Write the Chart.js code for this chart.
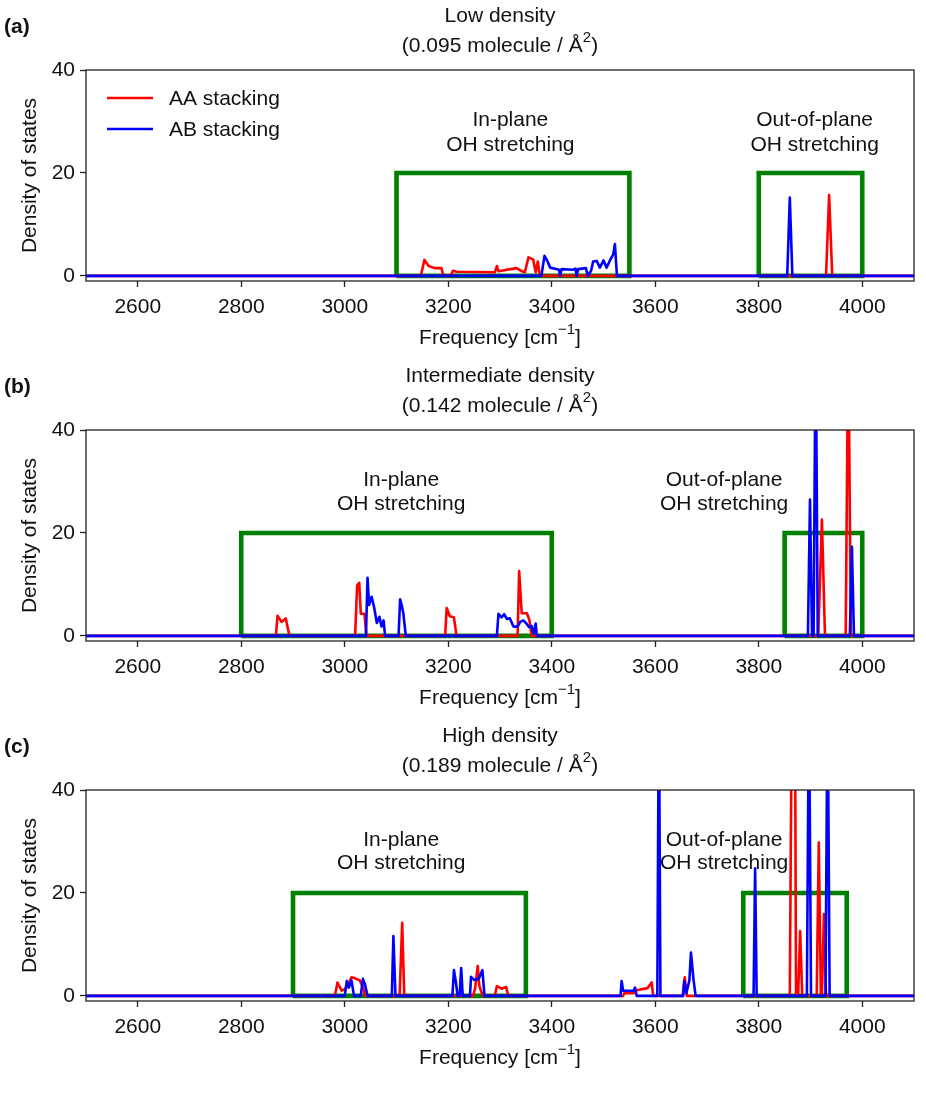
<!DOCTYPE html>
<html>
<head>
<meta charset="utf-8">
<script src="https://cdn.jsdelivr.net/npm/chart.js@4.4.1/dist/chart.umd.min.js"></script>
<style>
  html, body { margin: 0; padding: 0; background: #fff; }
  .panel { width: 926px; height: 360px; display: block; }
  canvas { display: block; }
</style>
</head>
<body>
<div class="panel"><canvas id="ca" width="926" height="360"></canvas></div>
<div class="panel"><canvas id="cb" width="926" height="360"></canvas></div>
<div class="panel"><canvas id="cc" width="926" height="360"></canvas></div>
<script>
// ---------- data (frequency in cm^-1, density of states) ----------
const xTicks = [2600, 2800, 3000, 3200, 3400, 3600, 3800, 4000];
const yTicks = [0, 20, 40];
const seriesNames = ['AA stacking', 'AB stacking'];

const lowAA = [[2500,0],[3147,0],[3154,3.1],[3162,1.9],[3175,1.5],[3187,1.5],[3190,0.3],[3192,0],[3205,0],[3209,1.0],[3216,0.8],[3290,0.7],[3294,1.9],[3297,0.9],[3332,1.5],[3340,1.0],[3348,0.7],[3355,3.6],[3364,3.2],[3369,0.7],[3373,2.8],[3377,0],[3930,0],[3936,15.7],[3942,0],[4100,0]];
const lowAB = [[2500,0],[3380,0],[3386,3.9],[3391,3.0],[3397,1.6],[3410,1.3],[3414,1.2],[3416,0],[3419,1.3],[3440,1.2],[3446,1.4],[3448,0],[3451,1.3],[3466,1.5],[3470,0],[3476,1.0],[3480,2.8],[3487,2.9],[3493,1.6],[3500,3.0],[3506,1.6],[3512,2.9],[3519,4.2],[3522,6.2],[3526,0],[3855,0],[3860,15.2],[3865,0],[4100,0]];

const midAA = [[2500,0],[2867,0],[2870,3.9],[2878,2.7],[2886,3.4],[2893,0],[3020,0],[3024,9.8],[3028,10.3],[3031,4.3],[3038,4.3],[3042,0],[3194,0],[3197,5.4],[3203,3.8],[3211,3.6],[3216,0],[3334,0],[3337,12.6],[3342,4.4],[3352,4.4],[3357,3.0],[3361,0],[3915,0],[3922,22.6],[3928,0],[3968,0],[3973,60],[3978,0],[4100,0]];
const midAB = [[2500,0],[3041,0],[3044,11.3],[3047,6.0],[3052,7.6],[3057,5.4],[3062,2.5],[3067,3.7],[3071,1.8],[3075,3.0],[3078,0],[3104,0],[3107,7.1],[3110,6.0],[3113,4.5],[3118,0],[3294,0],[3297,4.3],[3303,3.6],[3308,4.2],[3313,3.3],[3319,3.4],[3326,1.8],[3334,1.8],[3339,2.7],[3345,3.0],[3351,2.4],[3356,1.7],[3361,1.9],[3365,0.5],[3369,2.4],[3371,0],[3895,0],[3899,26.5],[3903,0],[3906,0],[3910,60],[3914,0],[3976,0],[3980,17.3],[3984,0],[4100,0]];

const highAA = [[2500,0],[2981,0],[2986,2.6],[2994,1.0],[3000,1.3],[3006,2.0],[3013,3.6],[3020,3.4],[3029,3.0],[3036,1.5],[3039,0],[3106,0],[3111,14.2],[3115,0],[3248,0],[3252,1.5],[3257,5.8],[3260,2.0],[3263,1.0],[3267,0],[3290,0],[3294,1.9],[3303,1.4],[3312,1.7],[3316,0],[3538,0],[3540,0.5],[3558,0.5],[3564,1.1],[3585,1.5],[3593,2.6],[3596,0],[3653,0],[3657,3.6],[3661,0],[3860,0],[3864,60],[3870,60],[3872,0],[3876,0],[3880,12.6],[3884,0],[3912,0],[3916,29.8],[3920,0],[3922,0],[3926,15.9],[3930,0],[4100,0]];
const highAB = [[2500,0],[3000,0],[3004,2.9],[3008,1.6],[3013,3.0],[3018,0],[3031,0],[3035,3.3],[3039,2.3],[3044,0],[3091,0],[3094,11.6],[3098,0],[3208,0],[3211,5.0],[3215,2.5],[3218,0],[3222,0],[3225,5.4],[3228,0],[3242,0],[3244,3.7],[3250,3.1],[3259,3.3],[3266,5.0],[3270,0],[3533,0],[3535,2.9],[3538,1.0],[3558,1.0],[3561,1.6],[3564,0],[3604,0],[3607,60],[3610,0],[3654,0],[3656,2.9],[3660,0.5],[3666,3.0],[3669,8.4],[3674,3.1],[3678,0],[3790,0],[3793,24.8],[3796,0],[3893,0],[3897,60],[3901,0],[3929,0],[3933,60],[3937,0],[4100,0]];

// boxes: [xStart, xEnd, height]
const lowBoxes  = [[3100, 3550, 20], [3800, 4000, 20]];
const midBoxes  = [[2800, 3400, 20], [3850, 4000, 20]];
const highBoxes = [[2900, 3350, 20], [3770, 3970, 20]];

const panelLabels = ['(a)', '(b)', '(c)'];
const titles = ['Low density', 'Intermediate density', 'High density'];
const densities = ['0.095', '0.142', '0.189'];

// ---------- drawing helpers ----------
const FONT = "'Liberation Sans', Arial, sans-serif";
const FS = 21;
const INK = '#111';

function drawRich(ctx, parts, cx, cy, align) {
  let total = 0;
  const widths = parts.map(p => {
    ctx.font = (p[1] ? Math.round(FS * 0.7) : FS) + 'px ' + FONT;
    const w = ctx.measureText(p[0]).width;
    total += w;
    return w;
  });
  let x = align === 'center' ? cx - total / 2 : cx;
  ctx.textAlign = 'left';
  ctx.textBaseline = 'middle';
  parts.forEach((p, i) => {
    ctx.font = (p[1] ? Math.round(FS * 0.7) : FS) + 'px ' + FONT;
    ctx.fillText(p[0], x, p[1] ? cy - 8 : cy);
    x += widths[i];
  });
}

function toXY(arr) { return arr.map(p => ({x: p[0], y: p[1]})); }
function boxPath(b) { return [{x:b[0],y:0},{x:b[0],y:b[2]},{x:b[1],y:b[2]},{x:b[1],y:0},{x:b[0],y:0}]; }

function makeChart(id, idx, aa, ab, boxes, annots, showLegend) {
  const datasets = [
    {label: seriesNames[1], data: toXY(ab), borderColor: '#0000ff', borderWidth: 2.6, clip: 0, borderJoinStyle: 'round'},
    {label: seriesNames[0], data: toXY(aa), borderColor: '#ff0000', borderWidth: 2.6, clip: 0, borderJoinStyle: 'round'},
  ];
  boxes.forEach(b => datasets.push({label: 'box', data: boxPath(b), borderColor: '#008000', borderWidth: 4.6, clip: 0, borderJoinStyle: 'miter'}));
  datasets.forEach(d => { d.showLine = true; d.pointRadius = 0; d.pointHoverRadius = 0; d.tension = 0; d.fill = false; });

  const decor = {
    id: 'decor' + idx,
    afterDatasetsDraw(chart) {
      const ctx = chart.ctx, a = chart.chartArea;
      const xs = chart.scales.x, ys = chart.scales.y;
      ctx.save();
      ctx.strokeStyle = '#222';
      ctx.lineWidth = 1.3;
      ctx.strokeRect(a.left, a.top, a.right - a.left, a.bottom - a.top);
      ctx.fillStyle = INK;
      ctx.font = FS + 'px ' + FONT;
      ctx.textAlign = 'center';
      ctx.textBaseline = 'middle';
      annots.forEach(t => {
        ctx.fillText(t[0], xs.getPixelForValue(t[1]), ys.getPixelForValue(t[2]));
      });
      if (showLegend) {
        const items = [['#ff0000', seriesNames[0]], ['#0000ff', seriesNames[1]]];
        items.forEach((it, i) => {
          const y = 98 + i * 31;
          ctx.strokeStyle = it[0];
          ctx.lineWidth = 2.6;
          ctx.beginPath(); ctx.moveTo(107, y); ctx.lineTo(153, y); ctx.stroke();
          ctx.fillStyle = INK;
          ctx.textAlign = 'left';
          ctx.fillText(it[1], 169, y + 1);
        });
      }
      const cx = (a.left + a.right) / 2;
      ctx.fillStyle = INK;
      ctx.textAlign = 'center';
      ctx.font = FS + 'px ' + FONT;
      ctx.fillText(titles[idx], cx, 16);
      drawRich(ctx, [['(' + densities[idx] + ' molecule / Å', false], ['2', true], [')', false]], cx, 46, 'center');
      ctx.font = 'bold ' + FS + 'px ' + FONT;
      ctx.textAlign = 'left';
      ctx.fillText(panelLabels[idx], 4, 27);
      drawRich(ctx, [['Frequency [cm', false], ['\u22121', true], [']', false]], cx, 338, 'center');
      ctx.save();
      ctx.translate(30, (a.top + a.bottom) / 2);
      ctx.rotate(-Math.PI / 2);
      ctx.font = FS + 'px ' + FONT;
      ctx.textAlign = 'center';
      ctx.textBaseline = 'middle';
      ctx.fillText('Density of states', 0, 0);
      ctx.restore();
      ctx.restore();
    }
  };

  return new Chart(document.getElementById(id), {
    type: 'scatter',
    data: { datasets },
    options: {
      responsive: false,
      animation: false,
      devicePixelRatio: 1,
      layout: { padding: { left: 0, top: 70, right: 12, bottom: 0 } },
      plugins: { legend: { display: false }, tooltip: { enabled: false }, title: { display: false } },
      events: [],
      scales: {
        x: {
          type: 'linear', min: 2500, max: 4100,
          afterBuildTicks: s => { s.ticks = xTicks.map(v => ({value: v})); },
          afterFit: s => { s.height = 79; },
          grid: { drawOnChartArea: false, drawTicks: true, tickLength: 6, tickWidth: 1.3, tickColor: '#222' },
          border: { display: false },
          ticks: { font: { family: FONT, size: FS }, color: INK, padding: 8, maxRotation: 0, autoSkip: false, callback: v => String(v) }
        },
        y: {
          type: 'linear', min: -1, max: 40,
          afterBuildTicks: s => { s.ticks = yTicks.map(v => ({value: v})); },
          afterFit: s => { s.width = 86; },
          grid: { drawOnChartArea: false, drawTicks: true, tickLength: 6, tickWidth: 1.3, tickColor: '#222' },
          border: { display: false },
          ticks: { font: { family: FONT, size: FS }, color: INK, padding: 5, callback: v => String(v) }
        }
      }
    },
    plugins: [decor]
  });
}

makeChart('ca', 0, lowAA, lowAB, lowBoxes,
  [['In-plane', 3320, 30.3], ['OH stretching', 3320, 25.4], ['Out-of-plane', 3908, 30.3], ['OH stretching', 3908, 25.4]], true);
makeChart('cb', 1, midAA, midAB, midBoxes,
  [['In-plane', 3109, 30.3], ['OH stretching', 3109, 25.6], ['Out-of-plane', 3733, 30.3], ['OH stretching', 3733, 25.6]], false);
makeChart('cc', 2, highAA, highAB, highBoxes,
  [['In-plane', 3109, 30.3], ['OH stretching', 3109, 25.8], ['Out-of-plane', 3733, 30.3], ['OH stretching', 3733, 25.8]], false);
</script>
</body>
</html>
